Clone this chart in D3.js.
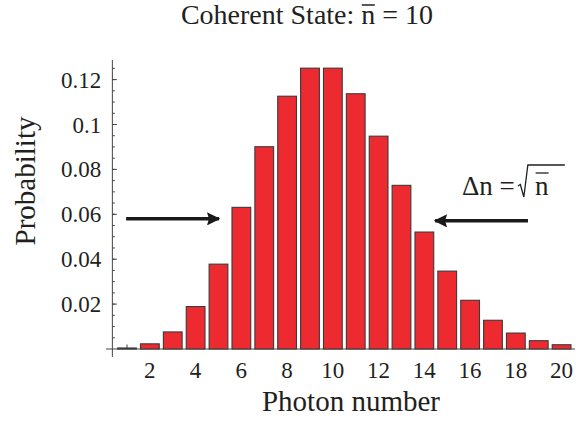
<!DOCTYPE html>
<html>
<head>
<meta charset="utf-8">
<script src="https://cdn.jsdelivr.net/npm/d3@7"></script>
<style>
  body { margin: 0; background: #fff; }
  text { font-family: "Liberation Serif", "DejaVu Serif", serif; fill: #231f20; }
</style>
</head>
<body>
<svg id="chart" width="576" height="421"></svg>
<script>
// photon numbers and their probabilities
var photonNumbers = [1, 2, 3, 4, 5, 6, 7, 8, 9, 10, 11, 12, 13, 14, 15, 16, 17, 18, 19, 20];
var probabilities = [0.00045, 0.0023, 0.0076, 0.0189, 0.0378, 0.0631, 0.0901, 0.1126, 0.1251, 0.1251,
                     0.1137, 0.0948, 0.0729, 0.0521, 0.0347, 0.0217, 0.0128, 0.0071, 0.0037, 0.0019];
var xTicks = [2, 4, 6, 8, 10, 12, 14, 16, 18, 20];
var yTicks = [0.02, 0.04, 0.06, 0.08, 0.1, 0.12];
var yMinorTicks = d3.range(0.005, 0.1275, 0.005);
var arrowLevel = 0.058;

var svg = d3.select('#chart');

// scales: axis crosses at x=112.5, baseline at y=349
var x = d3.scaleLinear().domain([1, 20]).range([127.0, 561.6]);
var y = d3.scaleLinear().domain([0, 0.12]).range([349, 79.6]);
var step = x(2) - x(1);
var barW = step * 0.82;
var originX = x(0.36);

// x ticks first (hidden behind the bars)
var xAxis = svg.append('g').attr('class', 'xaxis');
xAxis.append('line')
    .attr('x1', 106).attr('x2', 575)
    .attr('y1', y(0)).attr('y2', y(0))
    .style('stroke', '#444');
xAxis.selectAll('line.tick')
    .data(photonNumbers)
    .enter()
    .append('line')
    .attr('class', 'tick')
    .attr('x1', function(d) { return x(d); })
    .attr('x2', function(d) { return x(d); })
    .attr('y1', y(0)).attr('y2', function(d) { return y(0) - (d % 2 ? 4.5 : 2.5); })
    .style('stroke', '#444');
xAxis.selectAll('text')
    .data(xTicks)
    .enter()
    .append('text')
    .attr('x', function(d) { return x(d); })
    .attr('y', 378)
    .attr('text-anchor', 'middle')
    .style('font-size', '23px')
    .text(function(d) { return d; });

// bars
svg.append('g')
    .selectAll('rect')
    .data(photonNumbers)
    .enter()
    .append('rect')
    .attr('x', function(d) { return x(d) - barW / 2; })
    .attr('y', function(d, i) { return y(probabilities[i]); })
    .attr('width', barW)
    .attr('height', function(d, i) { return y(0) - y(probabilities[i]); })
    .style('fill', '#ed2a30')
    .style('stroke', '#3a3a3a')
    .style('stroke-width', 1.1);

// y axis (ticks point inward, Mathematica style)
var yAxis = svg.append('g').attr('class', 'yaxis');
yAxis.append('line')
    .attr('x1', originX).attr('x2', originX)
    .attr('y1', 60).attr('y2', 357)
    .style('stroke', '#444').style('stroke-width', 1);
yAxis.selectAll('line.minor')
    .data(yMinorTicks)
    .enter()
    .append('line')
    .attr('class', 'minor')
    .attr('x1', originX).attr('x2', originX + 2.5)
    .attr('y1', function(d) { return y(d); })
    .attr('y2', function(d) { return y(d); })
    .style('stroke', '#444');
yAxis.selectAll('line.major')
    .data(yTicks)
    .enter()
    .append('line')
    .attr('class', 'major')
    .attr('x1', originX).attr('x2', originX + 4.5)
    .attr('y1', function(d) { return y(d); })
    .attr('y2', function(d) { return y(d); })
    .style('stroke', '#444');
yAxis.selectAll('text')
    .data(yTicks)
    .enter()
    .append('text')
    .attr('x', originX - 11)
    .attr('y', function(d) { return y(d); })
    .attr('dy', '0.35em')
    .attr('text-anchor', 'end')
    .style('font-size', '23px')
    .text(function(d) { return d3.format('')(d); });

// axis labels
svg.append('text')
    .attr('x', 351).attr('y', 411)
    .attr('text-anchor', 'middle')
    .style('font-size', '29px')
    .text('Photon number');
svg.append('text')
    .attr('transform', 'translate(35,181) rotate(-90)')
    .attr('text-anchor', 'middle')
    .style('font-size', '29px')
    .text('Probability');

// title with n-bar
var title = svg.append('text')
    .attr('x', 307).attr('y', 24)
    .attr('text-anchor', 'middle')
    .style('font-size', '28px');
title.append('tspan').text('Coherent State: ');
title.append('tspan').attr('class', 'nbar').text('n');
title.append('tspan').text(' = 10');
var nb = title.select('.nbar').node().getBBox();
svg.append('line')
    .attr('x1', nb.x + 0.5).attr('x2', nb.x + nb.width - 0.5)
    .attr('y1', 5).attr('y2', 5)
    .style('stroke', '#231f20').style('stroke-width', 1.5);

// arrows
var defs = svg.append('defs');
defs.append('marker')
    .attr('id', 'head')
    .attr('viewBox', '0 0 10 10')
    .attr('refX', 9).attr('refY', 5)
    .attr('markerWidth', 4.9).attr('markerHeight', 3.7)
    .attr('markerUnits', 'strokeWidth')
    .attr('orient', 'auto')
    .append('path')
    .attr('d', 'M0,0 L10,5 L0,10 L1.5,5 Z')
    .style('fill', '#1a1a1a');
svg.append('line')
    .attr('x1', x(0.96)).attr('x2', x(5.02))
    .attr('y1', y(arrowLevel)).attr('y2', y(arrowLevel))
    .style('stroke', '#1a1a1a').style('stroke-width', 3.6)
    .attr('marker-end', 'url(#head)');
svg.append('line')
    .attr('x1', x(18.53)).attr('x2', x(14.47))
    .attr('y1', y(arrowLevel) + 2).attr('y2', y(arrowLevel) + 2)
    .style('stroke', '#1a1a1a').style('stroke-width', 3.6)
    .attr('marker-end', 'url(#head)');

// Δn = √n̄ label
var labBase = 195;
var lab = svg.append('text')
    .attr('x', 462).attr('y', labBase)
    .style('font-size', '27px')
    .text('\u0394n =');
var lb = lab.node().getBBox();
var rx = lb.x + lb.width + 3;
// radical sign and vinculum
svg.append('path')
    .attr('d', 'M' + rx + ',' + (labBase - 9) + ' L' + (rx + 2.5) + ',' + (labBase - 10.5) +
               ' L' + (rx + 6) + ',' + (labBase + 2) + ' L' + (rx + 10) + ',' + (labBase - 30) +
               ' L' + (rx + 47) + ',' + (labBase - 30))
    .style('fill', 'none').style('stroke', '#231f20').style('stroke-width', 1.3);
var n2 = svg.append('text')
    .attr('x', rx + 24).attr('y', labBase)
    .attr('text-anchor', 'middle')
    .style('font-size', '27px')
    .text('n');
var nb2 = n2.node().getBBox();
svg.append('line')
    .attr('x1', nb2.x + 0.5).attr('x2', nb2.x + nb2.width - 0.5)
    .attr('y1', labBase - 22).attr('y2', labBase - 22)
    .style('stroke', '#231f20').style('stroke-width', 1.3);
</script>
</body>
</html>
